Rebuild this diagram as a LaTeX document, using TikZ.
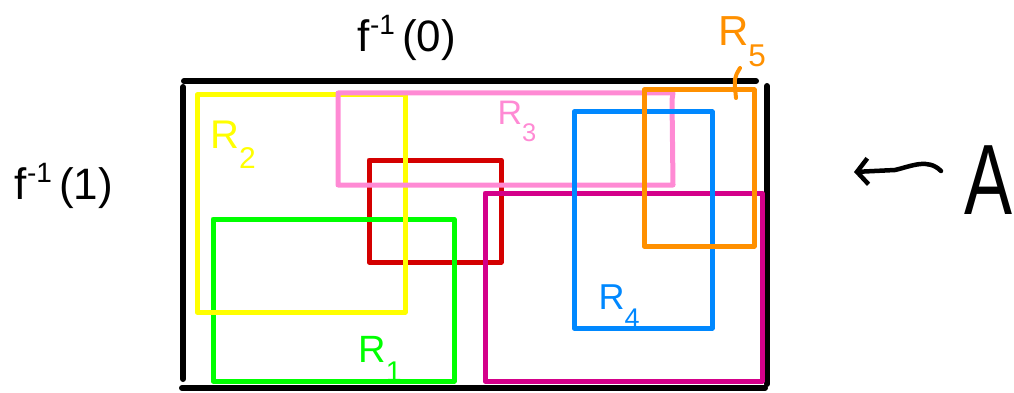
\documentclass[tikz,border=0pt]{standalone}
\usepackage{fontspec}
\setmainfont{Liberation Sans}
\usetikzlibrary{arrows.meta}
\definecolor{cyel}{HTML}{FFFF00}
\definecolor{cpink}{HTML}{FF8AD4}
\definecolor{cred}{HTML}{D40000}
\definecolor{cgreen}{HTML}{00FF00}
\definecolor{cmag}{HTML}{D4008A}
\definecolor{cblue}{HTML}{0088FF}
\definecolor{corange}{HTML}{FF9000}
\newcommand\Rlab[2]{\fontsize{#2}{#2}\selectfont R\raisebox{-0.5em}{\fontsize{0.75\dimexpr#2pt\relax}{1}\selectfont #1}}
\begin{document}
\begin{tikzpicture}[x=1pt,y=-1pt,
  box/.style={line width=5pt,line cap=round,line join=round},
  frame/.style={line width=6pt,line cap=round,black},
  lab/.style={inner sep=0pt,anchor=center},
  ftext/.style={inner sep=0pt,font=\fontsize{44}{44}\selectfont}]
\useasboundingbox (0,0) rectangle (1014,393);
% outer frame (A)
\draw[frame] (184,81) -- (756,81);
\draw[frame] (767,86) -- (767,384);
\draw[frame] (183,87) -- (183,379);
\draw[frame] (182,388) -- (765,388);
% rectangles
\draw[box,cred] (369,160) rectangle (501,262);
\draw[box,cgreen] (213,219) rectangle (454,381);
\draw[box,cyel] (197,95) rectangle (405,312);
\draw[box,cpink] (338,93) -- (673,93) -- (672,100) -- (673,185) -- (338,185) -- cycle;
\draw[box,cmag] (485,193) rectangle (762,381);
\draw[box,cblue] (574,112) rectangle (712,328);
\draw[box,corange] (644,90) rectangle (754,246);
% labels
\node[lab,text=cyel] (r2) at (233,145) {\Rlab{2}{40}};
\node[lab,text=cpink] (r3) at (517,121) {\Rlab{3}{34}};
\node[lab,text=cgreen] (r1) at (380,359) {\Rlab{1}{38}};
\node[lab,text=cblue] (r4) at (619,306) {\Rlab{4}{36}};
\node[lab,text=corange] (r5) at (742,42) {\Rlab{5}{42}};
\coordinate (t5a) at (740,68);
\coordinate (t5b) at (736,98);
\draw[line width=4pt,line cap=round,corange] (t5a) .. controls (734,78) .. (t5b);
% preimage labels
\node[ftext] (f0) at (407,38) {f\raisebox{0.4em}{\fontsize{28}{28}\selectfont -1}\,(0)};
\node[ftext] (f1) at (64,186) {f\raisebox{0.4em}{\fontsize{28}{28}\selectfont -1}\,(1)};
% A and arrow
\node[inner sep=0pt,anchor=east,xscale=0.72,font=\fontsize{100}{100}\selectfont] (A) at (1013,180) {A};
\coordinate (arrS) at (941,171);
\coordinate (arrE) at (854,172);
\draw[line width=4.5pt,line cap=round,-{Straight Barb[length=11pt,width=26pt]}]
  (arrS) .. controls (928,158) and (912,166) .. (895,170) -- (arrE);
\end{tikzpicture}
\end{document}
